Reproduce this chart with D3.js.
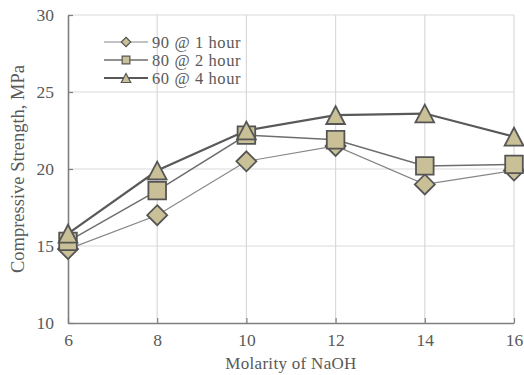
<!DOCTYPE html>
<html>
<head>
<meta charset="utf-8">
<script src="https://cdn.jsdelivr.net/npm/d3@7"></script>
<style>
  body { margin: 0; background: #fff; }
</style>
</head>
<body>
<div id="chart"></div>
<script>
const molarity = [6, 8, 10, 12, 14, 16];
const yTicks = [10, 15, 20, 25, 30];
const s90 = [14.8, 17.0, 20.5, 21.5, 19.0, 19.9];
const s80 = [15.3, 18.6, 22.2, 21.9, 20.2, 20.3];
const s60 = [15.8, 19.9, 22.5, 23.5, 23.6, 22.1];

const serif = "'Liberation Serif', 'Times New Roman', serif";
const textColor = "#595959";

// diamond = square turned by 45 degrees
const diamond = {
  draw(ctx, size) {
    const r = Math.sqrt(size / 2);
    ctx.moveTo(0, -r); ctx.lineTo(r, 0); ctx.lineTo(0, r); ctx.lineTo(-r, 0); ctx.closePath();
  }
};
// triangle centred on its bounding box
const triangle = {
  draw(ctx, size) {
    const w = Math.sqrt(size / 0.5), h = w * 0.95;
    ctx.moveTo(0, -h / 2); ctx.lineTo(w / 2, h / 2); ctx.lineTo(-w / 2, h / 2); ctx.closePath();
  }
};

const series = [
  {name: "90 @ 1 hour", values: s90, shape: diamond, size: 200, lsize: 45, line: "#868686", lw: 1.2},
  {name: "80 @ 2 hour", values: s80, shape: d3.symbolSquare, size: 310, lsize: 60, line: "#6e6e6e", lw: 1.5},
  {name: "60 @ 4 hour", values: s60, shape: triangle, size: 175, lsize: 45, line: "#595959", lw: 2.2}
];

const W = 524, H = 375;
const margin = {top: 15, right: 10, bottom: 52, left: 68};

const svg = d3.select("#chart").append("svg")
    .attr("width", W).attr("height", H);

const x = d3.scaleLinear().domain([6, 16]).range([margin.left, W - margin.right]);
const y = d3.scaleLinear().domain([10, 30]).range([H - margin.bottom, margin.top]);

// grid
svg.append("g").selectAll("line")
  .data(yTicks.slice(1))
  .join("line")
    .attr("x1", x(6)).attr("x2", x(16))
    .attr("y1", d => y(d)).attr("y2", d => y(d))
    .attr("stroke", "#d9d9d9").attr("stroke-width", 1.2);

svg.append("g").selectAll("line")
  .data(molarity.slice(1))
  .join("line")
    .attr("x1", d => x(d)).attr("x2", d => x(d))
    .attr("y1", y(10)).attr("y2", y(30))
    .attr("stroke", "#d9d9d9").attr("stroke-width", 1.2);

// axes
const xAxis = svg.append("g")
    .attr("transform", `translate(0,${y(10)})`)
    .call(d3.axisBottom(x).tickValues(molarity).tickSizeInner(-5).tickSizeOuter(0).tickPadding(11));
const yAxis = svg.append("g")
    .attr("transform", `translate(${x(6)},0)`)
    .call(d3.axisLeft(y).tickValues(yTicks).tickSizeInner(-5).tickSizeOuter(0).tickPadding(14));

[xAxis, yAxis].forEach(a => {
  a.select(".domain").attr("stroke", "#7f7f7f").attr("stroke-width", 1.6);
  a.selectAll(".tick line").attr("stroke", "#7f7f7f").attr("stroke-width", 1.2);
  a.selectAll(".tick text")
    .style("font-family", serif)
    .style("font-size", "17.5px")
    .style("fill", textColor);
});

// lines and markers
const line = d3.line().x((d, i) => x(molarity[i])).y(d => y(d));

series.forEach(s => {
  svg.append("path")
    .datum(s.values)
    .attr("fill", "none")
    .attr("stroke", s.line)
    .attr("stroke-width", s.lw)
    .attr("d", line);
});

series.forEach(s => {
  svg.append("g").selectAll("path")
    .data(s.values)
    .join("path")
      .attr("transform", (d, i) => `translate(${x(molarity[i])},${y(d)})`)
      .attr("d", d3.symbol().type(s.shape).size(s.size))
      .attr("fill", "#c9c097")
      .attr("stroke", "#555")
      .attr("stroke-width", 1.8);
});

// legend
const legend = svg.append("g");
series.forEach((s, i) => {
  const ly = 42 + i * 18;
  legend.append("line")
    .attr("x1", 104).attr("x2", 148)
    .attr("y1", ly).attr("y2", ly)
    .attr("stroke", s.line).attr("stroke-width", s.lw);
  legend.append("path")
    .attr("transform", `translate(126,${ly})`)
    .attr("d", d3.symbol().type(s.shape).size(s.lsize))
    .attr("fill", "#c9c097")
    .attr("stroke", "#555")
    .attr("stroke-width", 1.2);
  legend.append("text")
    .attr("x", 152).attr("y", ly + 5.5)
    .style("font-family", serif)
    .style("font-size", "16.5px")
    .style("letter-spacing", "0.6px")
    .style("fill", textColor)
    .text(s.name);
});

// axis titles
svg.append("text")
  .attr("x", (x(6) + x(16)) / 2)
  .attr("y", 369)
  .attr("text-anchor", "middle")
  .style("font-family", serif)
  .style("font-size", "17px")
  .style("letter-spacing", "0.3px")
  .style("fill", textColor)
  .text("Molarity of NaOH");

svg.append("text")
  .attr("transform", `translate(24,${(y(10) + y(30)) / 2}) rotate(-90)`)
  .attr("text-anchor", "middle")
  .style("font-family", serif)
  .style("font-size", "18.5px")
  .style("fill", textColor)
  .text("Compressive Strength, MPa");
</script>
</body>
</html>
